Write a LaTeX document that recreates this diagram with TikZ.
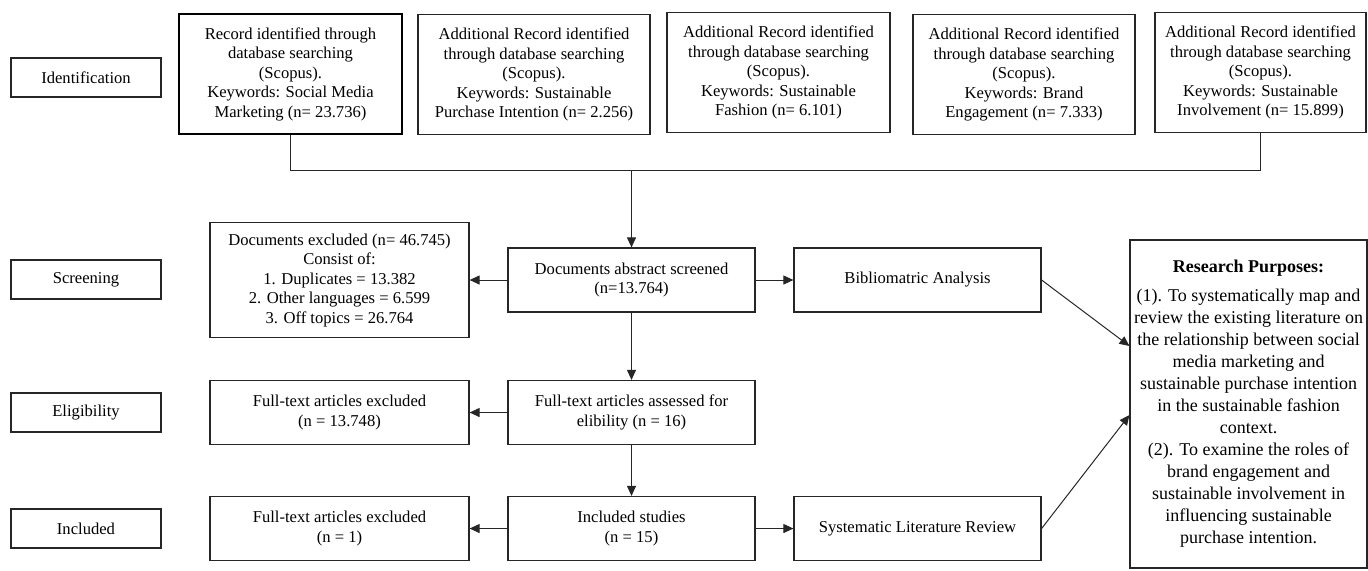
\documentclass[tikz,border=0pt]{standalone}
\usepackage{fontspec}
\setmainfont{Liberation Serif}
\usetikzlibrary{arrows.meta}

\begin{document}
\begin{tikzpicture}[x=0.5pt,y=-0.5pt,
        box/.style={draw=black!85,line width=0.6pt,align=center,inner sep=2pt,font=\fontsize{8.3}{9.75}\selectfont},
        stage/.style={box,minimum width=75pt,minimum height=19.5pt},
        src/.style={box,minimum height=60pt},
        res/.style={box,minimum width=123.5pt,minimum height=32pt},
        arr/.style={-{Triangle[length=5pt,width=4.5pt]},line width=0.5pt,draw=black!85}]

        \useasboundingbox (0,0) rectangle (1368,570); % page size

        % stages on the left
        \node[stage] (sid) at (86,77.5) {Identification};
        \node[stage] (sscr) at (86,279.5) {Screening};
        \node[stage] (selg) at (86,412.5) {Eligibility};
        \node[stage] (sinc) at (86,528.5) {Included};

        % database searches
        \node[src,minimum width=111.5pt,line width=1.3pt,draw=black] (b1) at (290.5,74) {Record identified through\\database searching\\(Scopus).\\Keywords: Social Media\\Marketing (n= 23.736)};
        \node[src,minimum width=116pt] (b2) at (534,74.5) {Additional Record identified\\through database searching\\(Scopus).\\Keywords: Sustainable\\Purchase Intention (n= 2.256)};
        \node[src,minimum width=111.5pt] (b3) at (778.5,72.5) {Additional Record identified\\through database searching\\(Scopus).\\Keywords: Sustainable\\Fashion (n= 6.101)};
        \node[src,minimum width=111pt] (b4) at (1024,74.5) {Additional Record identified\\through database searching\\(Scopus).\\Keywords: Brand\\Engagement (n= 7.333)};
        \node[src,minimum width=105.5pt] (b5) at (1260.5,72.5) {Additional Record identified\\through database searching\\(Scopus).\\Keywords: Sustainable\\Involvement (n= 15.899)};

        % screening
        \node[box,minimum width=129.5pt,minimum height=57.5pt] (exc1) at (339.5,280) {Documents excluded (n= 46.745)\\Consist of:\\1. Duplicates = 13.382\\2. Other languages = 6.599\\3. Off topics = 26.764};
        \node[res] (abs) at (631.5,280) {Documents abstract screened\\(n=13.764)};
        \node[res] (bib) at (917.5,280) {Bibliomatric Analysis};

        % eligibility
        \node[res,minimum width=129.5pt] (exc2) at (339.5,412.5) {Full-text articles excluded\\(n = 13.748)};
        \node[res] (ass) at (631.5,412.5) {Full-text articles assessed for\\elibility (n = 16)};

        % included
        \node[res,minimum width=129.5pt] (exc3) at (339.5,528.5) {Full-text articles excluded\\(n = 1)};
        \node[res] (inc) at (631.5,528.5) {Included studies\\(n = 15)};
        \node[res] (slr) at (917.5,528.5) {Systematic Literature Review};

        % purposes
        \node[box,font=\fontsize{9}{11}\selectfont,minimum width=117.5pt,minimum height=164pt] (rp) at (1248.5,404) {\textbf{Research Purposes:}\\[3.5pt]
            (1). To systematically map and\\review the existing literature on\\the relationship between social\\media marketing and\\sustainable purchase intention\\in the sustainable fashion\\context.\\(2). To examine the roles of\\brand engagement and\\sustainable involvement in\\influencing sustainable\\purchase intention.};

        % connectors
        \coordinate (join) at (631.5,170);
        \draw[line width=0.5pt,black!85] (b1.south) |- (join) -| (b5.south);
        \draw[arr] (join) -- (abs);
        \draw[arr] (abs) -- (exc1);
        \draw[arr] (abs) -- (bib);
        \draw[arr] (abs) -- (ass);
        \draw[arr] (ass) -- (exc2);
        \draw[arr] (ass) -- (inc);
        \draw[arr] (inc) -- (exc3);
        \draw[arr] (inc) -- (slr);
        \draw[arr] (bib.east) -- ([yshift=29pt]rp.west);
        \draw[arr] (slr.east) -- ([yshift=-5.5pt]rp.west);
    \end{tikzpicture}
\end{document}
